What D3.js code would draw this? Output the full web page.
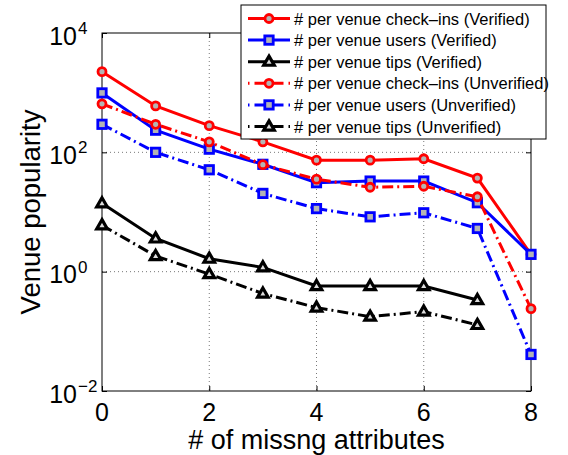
<!DOCTYPE html>
<html><head><meta http-equiv="Content-Type" content="text/html; charset=UTF-8">
<script src="https://d3js.org/d3.v7.min.js"></script>
<style>
  body { margin: 0; background: #fff; }
  svg { font-family: "Liberation Sans", Arial, Helvetica, sans-serif; }
</style>
</head>
<body>
<script type="text/javascript">
"use strict";
// values
let attrs = [0, 1, 2, 3, 4, 5, 6, 7, 8];
let checkinsVerified = [2250, 600, 280, 150, 74, 74, 78, 37, 1.95];
let usersVerified = [990, 235, 113, 63, 31, 33, 33, 14.3, 1.95];
let tipsVerified = [14, 3.6, 1.65, 1.18, 0.575, 0.575, 0.575, 0.335];
let checkinsUnverified = [650, 295, 150, 62, 35.5, 26, 27, 18, 0.24];
let usersUnverified = [295, 100, 51, 20.5, 11.4, 8.3, 9.7, 5.3, 0.041];
let tipsUnverified = [6.0, 1.83, 0.91, 0.43, 0.25, 0.176, 0.214, 0.128];
let seriesNames = [
  "# per venue check\u2013ins (Verified)",
  "# per venue users (Verified)",
  "# per venue tips (Verified)",
  "# per venue check\u2013ins (Unverified)",
  "# per venue users (Unverified)",
  "# per venue tips (Unverified)"
];
let xTicks = [0, 2, 4, 6, 8];
let yTickExps = [-2, 0, 2, 4];

let series = [
  {name: seriesNames[0], values: checkinsVerified, color: "#ff0000", marker: "circle", dashed: false},
  {name: seriesNames[1], values: usersVerified, color: "#0000ff", marker: "square", dashed: false},
  {name: seriesNames[2], values: tipsVerified, color: "#000000", marker: "triangle", dashed: false},
  {name: seriesNames[3], values: checkinsUnverified, color: "#ff0000", marker: "circle", dashed: true},
  {name: seriesNames[4], values: usersUnverified, color: "#0000ff", marker: "square", dashed: true},
  {name: seriesNames[5], values: tipsUnverified, color: "#000000", marker: "triangle", dashed: true}
];

let W = 568, H = 455;
let plot = {left: 102, top: 33, right: 531, bottom: 391};

let svg = d3.select("body").append("svg").attr("width", W).attr("height", H);

let x = d3.scaleLinear().domain([0, 8]).range([plot.left, plot.right]);
let y = d3.scaleLog().domain([1e-2, 1e4]).range([plot.bottom, plot.top]);

// dotted grid
let grid = svg.append("g");
grid.selectAll("line.gx").data(xTicks.slice(1, -1)).enter().append("line")
  .attr("x1", d => x(d)).attr("x2", d => x(d))
  .attr("y1", plot.top).attr("y2", plot.bottom)
  .attr("stroke", "#555").attr("stroke-width", 0.8).attr("stroke-dasharray", "1,3");
grid.selectAll("line.gy").data(yTickExps.slice(1, -1)).enter().append("line")
  .attr("y1", d => y(Math.pow(10, d))).attr("y2", d => y(Math.pow(10, d)))
  .attr("x1", plot.left).attr("x2", plot.right)
  .attr("stroke", "#555").attr("stroke-width", 0.8).attr("stroke-dasharray", "1,3");

// axes box with inward ticks
let box = svg.append("g");
box.append("rect")
  .attr("x", plot.left).attr("y", plot.top)
  .attr("width", plot.right - plot.left).attr("height", plot.bottom - plot.top)
  .attr("fill", "none").attr("stroke", "#000").attr("stroke-width", 1);
let xAxis = d3.axisBottom(x).tickValues(xTicks).tickSizeInner(-5).tickSizeOuter(0).tickFormat("");
let xAxisTop = d3.axisTop(x).tickValues(xTicks).tickSizeInner(-5).tickSizeOuter(0).tickFormat("");
let yTickVals = yTickExps.map(e => Math.pow(10, e));
let yAxis = d3.axisLeft(y).tickValues(yTickVals).tickSizeInner(-5).tickSizeOuter(0).tickFormat("");
let yAxisRight = d3.axisRight(y).tickValues(yTickVals).tickSizeInner(-5).tickSizeOuter(0).tickFormat("");
[
  [xAxis, `translate(0,${plot.bottom})`],
  [xAxisTop, `translate(0,${plot.top})`],
  [yAxis, `translate(${plot.left},0)`],
  [yAxisRight, `translate(${plot.right},0)`]
].forEach(([ax, tr]) => {
  let g = box.append("g").attr("transform", tr).call(ax);
  g.select(".domain").remove();
  g.selectAll(".tick line").attr("stroke", "#000").attr("stroke-width", 1);
});

// tick labels
svg.append("g").selectAll("text").data(xTicks).enter().append("text")
  .attr("x", d => x(d)).attr("y", plot.bottom + 30)
  .attr("text-anchor", "middle").attr("font-size", 25)
  .text(d => d);
let yl = svg.append("g").selectAll("g").data(yTickExps).enter().append("g");
yl.append("text")
  .attr("x", 77).attr("y", d => y(Math.pow(10, d)) + 11.5)
  .attr("text-anchor", "end").attr("font-size", 25)
  .text("10");
yl.append("text")
  .attr("x", 78).attr("y", d => y(Math.pow(10, d)) + 1)
  .attr("font-size", 17)
  .text(d => d < 0 ? "\u2212" + Math.abs(d) : d);

// axis labels
svg.append("text")
  .attr("x", (plot.left + plot.right) / 2).attr("y", 449)
  .attr("text-anchor", "middle").attr("font-size", 27)
  .text("# of missng attributes");
svg.append("text")
  .attr("transform", `translate(40,${(plot.top + plot.bottom) / 2}) rotate(-90)`)
  .attr("text-anchor", "middle").attr("font-size", 27.5)
  .text("Venue popularity");

// marker drawing
function drawMarker(g, type, color, cx, cy) {
  if (type === "circle") {
    g.append("circle").attr("cx", cx).attr("cy", cy).attr("r", 4)
      .attr("fill", "#b4b4b4").attr("stroke", color).attr("stroke-width", 2.8);
  } else if (type === "square") {
    g.append("rect").attr("x", cx - 4.2).attr("y", cy - 4.2).attr("width", 8.4).attr("height", 8.4)
      .attr("fill", "#b4b4b4").attr("stroke", color).attr("stroke-width", 2.8);
  } else {
    g.append("path").attr("d", d3.symbol(d3.symbolTriangle, 48)())
      .attr("transform", `translate(${cx},${cy + 0.5})`)
      .attr("fill", "#ddd").attr("stroke", color).attr("stroke-width", 3.2)
      .attr("stroke-linejoin", "miter");
  }
}

let line = d3.line().x((d, i) => x(attrs[i])).y(d => y(d));
series.forEach(s => {
  let g = svg.append("g");
  g.append("path").datum(s.values).attr("d", line)
    .attr("fill", "none").attr("stroke", s.color).attr("stroke-width", 3)
    .attr("stroke-dasharray", s.dashed ? "11,4,2,4" : null);
  s.values.forEach((v, i) => drawMarker(g, s.marker, s.color, x(attrs[i]), y(v)));
});

// legend
let lg = svg.append("g");
lg.append("rect").attr("x", 241).attr("y", 5).attr("width", 305).attr("height", 134)
  .attr("fill", "#fff").attr("stroke", "#000").attr("stroke-width", 1);
series.forEach((s, i) => {
  let ry = 18.5 + i * 21.6;
  lg.append("line").attr("x1", 248).attr("x2", 290).attr("y1", ry).attr("y2", ry)
    .attr("stroke", s.color).attr("stroke-width", 3)
    .attr("stroke-dasharray", s.dashed ? "1.5,5,29,5,1.5,10" : null);
  drawMarker(lg, s.marker, s.color, 269, ry);
  lg.append("text").attr("x", 294).attr("y", ry + 6)
    .attr("font-size", 16.5).text(s.name);
});
</script>
</body>
</html>
